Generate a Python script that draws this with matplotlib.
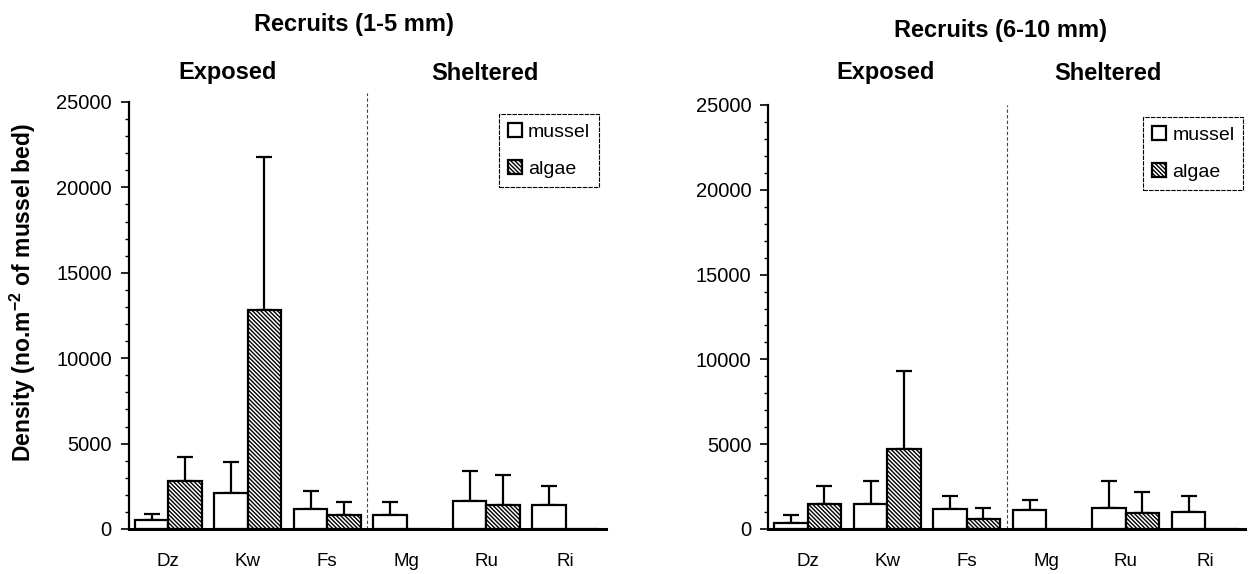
import numpy as np
import matplotlib
matplotlib.use("Agg")
import matplotlib.pyplot as plt
from matplotlib.ticker import MultipleLocator

plt.rcParams['font.family'] = ['Liberation Sans', 'DejaVu Sans']
plt.rcParams['mathtext.fontset'] = 'custom'
plt.rcParams['mathtext.bf'] = 'Liberation Sans:bold'
plt.rcParams['mathtext.rm'] = 'Liberation Sans:bold'
plt.rcParams['mathtext.default'] = 'bf'
plt.rcParams['hatch.linewidth'] = 1.0

"""
Data: mean density and error (upper bar only)
"""
sites = ['Dz', 'Kw', 'Fs', 'Mg', 'Ru', 'Ri']

small_mussel = [500, 2100, 1150, 800, 1650, 1400]
small_mussel_err = [350, 1800, 1050, 780, 1720, 1100]
small_algae = [2800, 12800, 800, 0, 1400, 0]
small_algae_err = [1400, 9000, 780, 0, 1750, 0]

large_mussel = [350, 1450, 1150, 1100, 1250, 1000]
large_mussel_err = [480, 1400, 800, 600, 1600, 950]
large_algae = [1500, 4700, 600, 0, 950, 0]
large_algae_err = [1050, 4600, 650, 0, 1250, 0]

W, H = 1251, 574
fig = plt.figure(figsize=(W/100, H/100), dpi=100)

ax1 = fig.add_axes([128.5/W, 1-529/H, 477/W, 427/H])
ax2 = fig.add_axes([768/W, 1-529/H, 477/W, 424/H])

bw = 0.42
x = np.arange(len(sites))


def draw_panel(ax, mussel, mussel_err, algae, algae_err, leg_anchor, line_top):
    mussel = np.array(mussel, dtype=float)
    algae = np.array(algae, dtype=float)
    ax.bar(x - bw/2, mussel, bw, color='white', edgecolor='black', linewidth=1.6,
           label='mussel', zorder=2)
    ax.bar(x + bw/2, algae, bw, color='white', edgecolor='black', linewidth=1.6,
           hatch='\\' * 8, label='algae', zorder=2)

    for xs, vals, errs in [(x - bw/2, mussel, mussel_err), (x + bw/2, algae, algae_err)]:
        errs = np.array(errs, dtype=float)
        keep = vals > 0
        ax.errorbar(xs[keep], vals[keep], yerr=[np.zeros(keep.sum()), errs[keep]],
                    fmt='none', ecolor='black', elinewidth=1.6, capsize=5.5,
                    capthick=1.6, zorder=1)

    # exposed / sheltered divider
    ax.axvline(2.5, ymin=0, ymax=line_top, color='#444444', lw=0.8,
               ls=(0, (3, 2)), clip_on=False, zorder=0)

    ax.set_xlim(-0.5, 5.5)
    ax.set_ylim(0, 25000)
    ax.set_xticks(x)
    ax.set_xticklabels(sites, fontsize=13.5)
    ax.tick_params(axis='x', length=0, pad=17)
    ax.yaxis.set_major_locator(MultipleLocator(5000))
    ax.yaxis.set_minor_locator(MultipleLocator(1000))
    ax.tick_params(axis='y', which='major', length=6, width=1.2, labelsize=14.5, pad=6)
    ax.tick_params(axis='y', which='minor', length=3, width=1.0)

    for s in ['top', 'right']:
        ax.spines[s].set_visible(False)
    ax.spines['left'].set_linewidth(1.6)
    ax.spines['bottom'].set_linewidth(2.2)

    leg = ax.legend(loc='upper right', bbox_to_anchor=leg_anchor, borderaxespad=0,
                    fontsize=14, handlelength=0.75, handleheight=0.75,
                    handletextpad=0.3, labelspacing=1.0, borderpad=0.45,
                    fancybox=False, framealpha=1)
    leg.get_frame().set_edgecolor('black')
    leg.get_frame().set_linewidth(0.8)
    leg.get_frame().set_linestyle((0, (4, 1)))


draw_panel(ax1, small_mussel, small_mussel_err, small_algae, small_algae_err,
           (0.986, 0.972), 1.02)
draw_panel(ax2, large_mussel, large_mussel_err, large_algae, large_algae_err,
           (0.996, 0.972), 1.0)

# titles and group headers
fig.text(354/W, 1-24/H, 'Recruits (1-5 mm)', ha='center', va='center',
         fontsize=17, fontweight='bold')
fig.text(1001/W, 1-31/H, 'Recruits (6-10 mm)', ha='center', va='center',
         fontsize=17, fontweight='bold')
for xp, txt in [(228, 'Exposed'), (485, 'Sheltered'), (886, 'Exposed'), (1108, 'Sheltered')]:
    fig.text(xp/W, 1-73/H, txt, ha='center', va='center', fontsize=17, fontweight='bold')

fig.text(23/W, 1-292.5/H, 'Density (no.m$^{-2}$ of mussel bed)', rotation=90,
         ha='center', va='center', fontsize=16.5, fontweight='bold')

plt.savefig("out.png", dpi=100)
